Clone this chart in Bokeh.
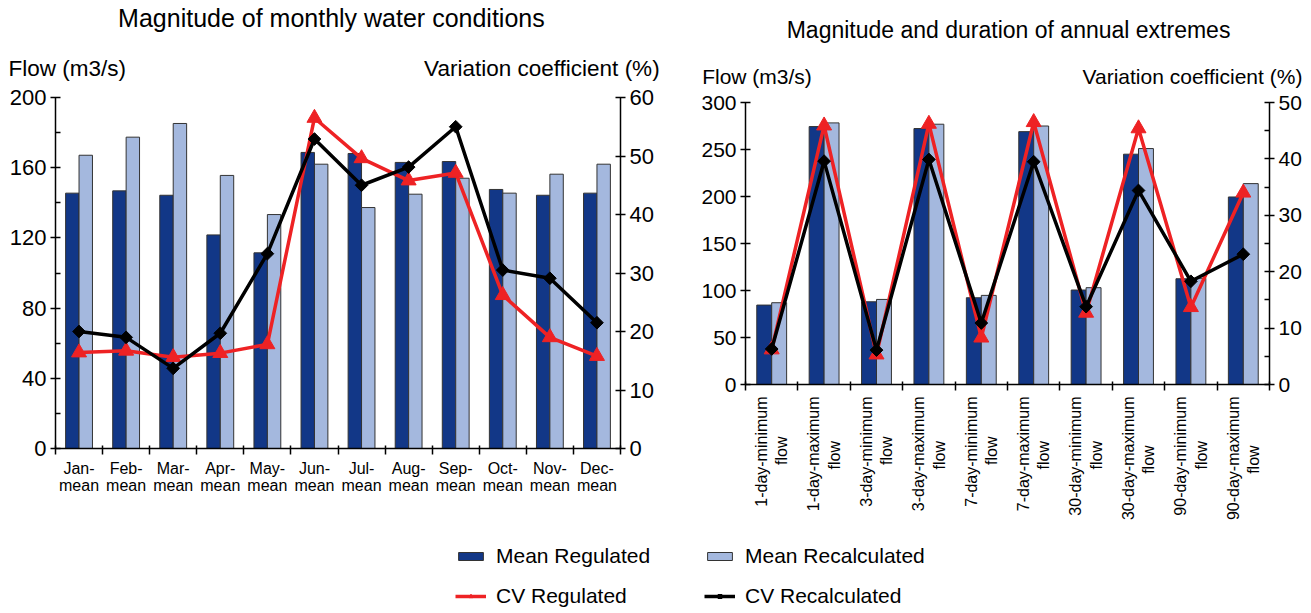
import numpy as np
from bokeh.plotting import figure
from bokeh.models import (Range1d, LinearAxis, FixedTicker, Legend, LegendItem)
from bokeh.layouts import column, row
from bokeh.embed import file_html
from bokeh.resources import INLINE

# ---------------- data ----------------
months = ["Jan-\nmean", "Feb-\nmean", "Mar-\nmean", "Apr-\nmean", "May-\nmean", "Jun-\nmean",
          "Jul-\nmean", "Aug-\nmean", "Sep-\nmean", "Oct-\nmean", "Nov-\nmean", "Dec-\nmean"]
m_mean_reg = [145.5, 146.8, 144.3, 121.7, 111.5, 168.7, 168.1, 163.0, 163.5, 147.6, 144.3, 145.5]
m_mean_rec = [167.1, 177.4, 185.2, 155.6, 133.3, 162.0, 137.3, 144.9, 154.0, 145.5, 156.3, 162.0]
m_cv_reg = [16.4, 16.7, 15.6, 16.3, 17.8, 56.5, 49.6, 45.8, 47.1, 26.2, 19.0, 15.8]
m_cv_rec = [20.0, 19.0, 13.7, 19.7, 33.3, 52.9, 45.0, 48.1, 55.0, 30.5, 29.1, 21.5]

extremes = ["1-day-minimum\nflow", "1-day-maximum\nflow", "3-day-minimum\nflow", "3-day-maximum\nflow",
            "7-day-minimum\nflow", "7-day-maximum\nflow", "30-day-minimum\nflow", "30-day-maximum\nflow",
            "90-day-minimum\nflow", "90-day-maximum\nflow"]
e_mean_reg = [84.5, 274.4, 88.0, 272.3, 92.3, 269.0, 100.5, 245.0, 112.5, 199.5]
e_mean_rec = [87.0, 278.3, 90.5, 276.9, 94.8, 275.0, 103.0, 251.0, 113.0, 213.7]
e_cv_reg = [6.2, 45.9, 5.3, 46.2, 8.3, 46.5, 12.7, 45.4, 13.7, 34.0]
e_cv_rec = [6.3, 39.6, 6.1, 39.9, 10.9, 39.5, 13.8, 34.4, 18.3, 23.1]

left_ticks = [0, 40, 80, 120, 160, 200]
left_minor = [20, 60, 100, 140, 180]
left_cv_ticks = [0, 10, 20, 30, 40, 50, 60]
right_ticks = [0, 50, 100, 150, 200, 250, 300]
right_cv_ticks = [0, 10, 20, 30, 40, 50]
right_cv_minor = [5, 15, 25, 35, 45]

# ---------------- style ----------------
FONT = "Liberation Sans"
DARK = "#123787"
LIGHT = "#A4B8DE"
RED = "#EE2224"
BLACK = "#000000"
BW = 0.285

# approximate Liberation Sans advance widths (em) to centre the 2nd line of rotated labels
_W = {"-": .333, "a": .556, "d": .556, "f": .278, "i": .222, "l": .222, "m": .833,
      "n": .556, "o": .556, "u": .556, "w": .722, "x": .5, "y": .5}


def _width(s):
    return sum(_W.get(c, .556) for c in s)


def centre_lines(label):
    first, second = label.split("\n")
    pad = int(round((_width(first) - _width(second)) / 2 / .278))
    return first + "\n" + second + "\u00a0" * pad


def style_axis(ax, ticks, minor, tick_fs):
    ax.ticker = FixedTicker(ticks=ticks, minor_ticks=minor or [])
    ax.axis_line_color = "black"
    ax.axis_line_width = 1.5
    ax.major_tick_line_color = "black"
    ax.major_tick_line_width = 1.5
    ax.minor_tick_line_color = "black"
    ax.minor_tick_line_width = 1.5
    ax.major_tick_in = 5
    ax.major_tick_out = 5
    ax.minor_tick_in = 5
    ax.minor_tick_out = 0
    ax.major_label_text_font = FONT
    ax.major_label_text_font_size = tick_fs
    ax.major_label_text_color = "black"
    ax.major_label_standoff = 4


def text_axis(labels, size, standoff):
    ax = LinearAxis(ticker=FixedTicker(ticks=list(labels.keys())), major_label_overrides=labels)
    ax.axis_line_color = None
    ax.major_tick_in = 0
    ax.major_tick_out = 0
    ax.minor_tick_in = 0
    ax.minor_tick_out = 0
    ax.major_label_text_font = FONT
    ax.major_label_text_font_size = size
    ax.major_label_text_color = "black"
    ax.major_label_standoff = standoff
    return ax


def build(cats, reg, rec, cvreg, cvrec, ymax, cvmax, yt, ym, cvt, cvm,
          fw, fh, bl, br, bt, bb, title, t_fs, t_pos, t_stand, label_pos, lab_fs_top, lab_stand,
          rotate, lab_fs, x_stand, tick_fs):
    n = len(cats)
    xs = list(range(n))
    p = figure(frame_width=fw, frame_height=fh, output_backend="svg", toolbar_location=None,
               x_range=Range1d(-0.5, n - 0.5), y_range=Range1d(0, ymax),
               min_border_left=bl, min_border_right=br, min_border_top=bt, min_border_bottom=bb)
    p.title.visible = False
    p.extra_y_ranges = {"cv": Range1d(0, cvmax)}
    p.outline_line_color = None
    p.xgrid.visible = False
    p.ygrid.visible = False

    p.vbar(x=[x - BW / 2 for x in xs], top=reg, width=BW, fill_color=DARK,
           line_color="#333333", line_width=1)
    p.vbar(x=[x + BW / 2 for x in xs], top=rec, width=BW, fill_color=LIGHT,
           line_color="#333333", line_width=1)
    p.line(xs, cvreg, y_range_name="cv", line_color=RED, line_width=3.5)
    p.scatter(xs, cvreg, y_range_name="cv", marker="triangle", size=15,
              fill_color=RED, line_color=RED)
    p.line(xs, cvrec, y_range_name="cv", line_color=BLACK, line_width=3.5)
    p.scatter(xs, cvrec, y_range_name="cv", marker="square", angle=np.pi / 4, size=9,
              fill_color=BLACK, line_color=BLACK)

    style_axis(p.yaxis[0], yt, ym, tick_fs)
    rax = LinearAxis(y_range_name="cv")
    style_axis(rax, cvt, cvm, tick_fs)
    p.add_layout(rax, "right")

    xa = p.xaxis[0]
    xa.ticker = FixedTicker(ticks=xs, minor_ticks=[x - 0.5 for x in xs] + [n - 0.5])
    xa.axis_line_color = "black"
    xa.axis_line_width = 1.5
    xa.major_tick_in = 0
    xa.major_tick_out = 0
    xa.minor_tick_in = 3
    xa.minor_tick_out = 6
    xa.minor_tick_line_color = "black"
    xa.minor_tick_line_width = 1.5
    if rotate:
        xa.major_label_overrides = {i: centre_lines(c) for i, c in enumerate(cats)}
        xa.major_label_orientation = np.pi / 2
    else:
        xa.major_label_overrides = {i: c for i, c in enumerate(cats)}
        xa.major_label_text_line_height = 1.0
    xa.major_label_text_font = FONT
    xa.major_label_text_font_size = lab_fs
    xa.major_label_text_color = "black"
    xa.major_label_standoff = x_stand

    # axis titles row, then chart title row (above the frame)
    p.add_layout(text_axis({label_pos[0]: "Flow (m3/s)",
                            label_pos[1]: "Variation coefficient (%)"}, lab_fs_top, lab_stand), "above")
    p.add_layout(text_axis({t_pos: title}, t_fs, t_stand), "above")
    return p


p1 = build(months, m_mean_reg, m_mean_rec, m_cv_reg, m_cv_rec, 200, 60,
           left_ticks, left_minor, left_cv_ticks, None,
           565, 351, 55, 68, 97, 60,
           "Magnitude of monthly water conditions", "25px", 5.36, 21, (-0.25, 9.83), "22.5px", 17,
           False, "16px", 5, "22px")

p2 = build(extremes, e_mean_reg, e_mean_rec, e_cv_reg, e_cv_rec, 300, 50,
           right_ticks, None, right_cv_ticks, right_cv_minor,
           524, 282, 57, 34, 102, 138,
           "Magnitude and duration of annual extremes", "23px", 4.52, 19, (-0.28, 8.03), "21px", 15,
           True, "16px", 6, "21px")

# legend figure
p3 = figure(width=1303, height=87, output_backend="svg", toolbar_location=None,
            x_range=Range1d(0, 1), y_range=Range1d(0, 1), min_border=0)
p3.axis.visible = False
p3.grid.visible = False
p3.outline_line_color = None
nan = [float("nan")]
r_reg = p3.vbar(x=nan, top=nan, width=0.1, fill_color=DARK, line_color="#333333")
r_rec = p3.vbar(x=nan, top=nan, width=0.1, fill_color=LIGHT, line_color="#333333")
r_l1 = p3.line(x=nan, y=nan, line_color=RED, line_width=3.5)
r_s1 = p3.scatter(x=nan, y=nan, marker="triangle", size=12, fill_color=RED, line_color=RED)
r_l2 = p3.line(x=nan, y=nan, line_color=BLACK, line_width=3.5)
r_s2 = p3.scatter(x=nan, y=nan, marker="square", angle=np.pi / 4, size=6,
                  fill_color=BLACK, line_color=BLACK)
leg = Legend(items=[LegendItem(label="Mean Regulated", renderers=[r_reg]),
                    LegendItem(label="CV Regulated", renderers=[r_l1, r_s1]),
                    LegendItem(label="Mean Recalculated", renderers=[r_rec]),
                    LegendItem(label="CV Recalculated", renderers=[r_l2, r_s2])],
             ncols=2, location=(455, 1), glyph_width=31, glyph_height=10,
             label_standoff=10, label_width=194, label_height=26, spacing=14,
             padding=0, margin=0, border_line_color=None, background_fill_alpha=0,
             label_text_font=FONT, label_text_font_size="21px", label_text_color="black")
p3.add_layout(leg)

layout = column(row(column(p1), column(p2)), p3)
open("out.html", "w").write(file_html(layout, INLINE))
